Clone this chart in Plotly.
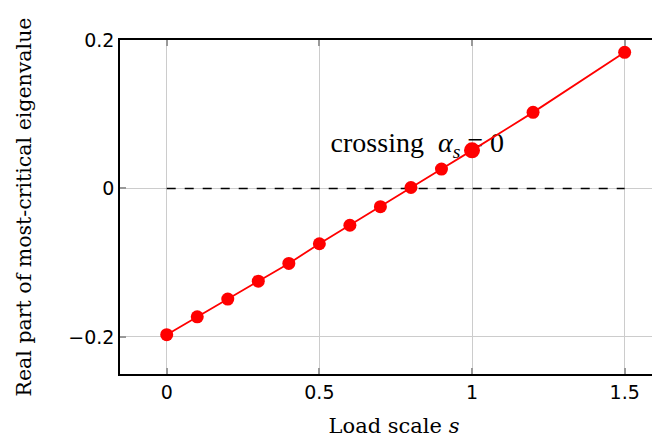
import plotly.graph_objects as go

s_vals = [0, 0.1, 0.2, 0.3, 0.4, 0.5, 0.6, 0.7, 0.8, 0.9, 1.0, 1.2, 1.5]
re_eig = [-0.197, -0.173, -0.149, -0.125, -0.101, -0.0745, -0.0496, -0.0246, 0.0013, 0.0261, 0.0513, 0.1025, 0.1834]
x_ticks = [0, 0.5, 1, 1.5]
x_tick_text = ["0", "0.5", "1", "1.5"]
y_ticks = [-0.2, 0, 0.2]
y_tick_text = ["\u22120.2", "0", "0.2"]
zero_line_x = [0, 1.5]
zero_line_y = [0, 0]
highlight_s = [1.0]
highlight_v = [0.0513]
label_pos = (0.821, 0.059)
label_text = "crossing&nbsp;&nbsp;<i>\u03b1<sub>s</sub></i> = 0"

fig = go.Figure()
fig.add_trace(go.Scatter(x=zero_line_x, y=zero_line_y, mode="lines",
                         line=dict(color="black", width=1.5, dash="dash"),
                         hoverinfo="skip", showlegend=False))
fig.add_trace(go.Scatter(x=[label_pos[0]], y=[label_pos[1]], mode="text",
                         text=[label_text], textposition="middle center",
                         textfont=dict(family="Liberation Serif", size=28, color="black"),
                         showlegend=False))
fig.add_trace(go.Scatter(x=s_vals, y=re_eig, mode="lines+markers",
                         line=dict(color="#ff0000", width=1.8),
                         marker=dict(color="#ff0000", size=13),
                         showlegend=False))
fig.add_trace(go.Scatter(x=highlight_s, y=highlight_v, mode="markers",
                         marker=dict(color="#ff0000", size=16),
                         showlegend=False))

# page body has an 8px default margin, so the figure is offset by (8, 8)
fig.update_layout(
    width=660, height=430,
    margin=dict(l=112, r=0, t=32, b=64),
    paper_bgcolor="white", plot_bgcolor="white",
    font=dict(family="DejaVu Sans", size=19, color="black"),
)
fig.update_xaxes(
    range=[-0.153, 1.642], tickvals=x_ticks, ticktext=x_tick_text,
    showgrid=True, gridcolor="#cccccc", gridwidth=1.2,
    showline=True, linecolor="black", linewidth=1.5, mirror="allticks",
    ticks="inside", ticklen=6, tickcolor="#999999", tickwidth=1.5,
    zeroline=False, automargin=False,
    title=dict(text="Load scale <i>s</i>", font=dict(family="DejaVu Serif", size=21), standoff=19),
)
fig.update_yaxes(
    range=[-0.25, 0.2], tickvals=y_ticks, ticktext=y_tick_text,
    showgrid=True, gridcolor="#cccccc", gridwidth=1.2,
    showline=True, linecolor="black", linewidth=1.5, mirror=False,
    ticks="inside", ticklen=6, tickcolor="#999999", tickwidth=1.5,
    zeroline=False, automargin=False,
    title=dict(text="Real part of most-critical eigenvalue", font=dict(family="DejaVu Serif", size=20.5), standoff=31),
)
fig.write_html("out.html")
